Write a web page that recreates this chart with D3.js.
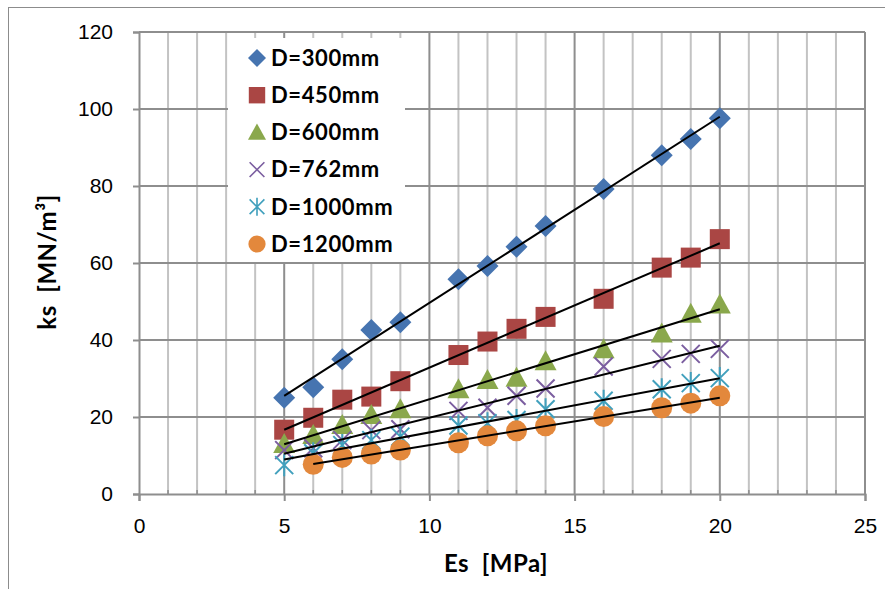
<!DOCTYPE html>
<html>
<head>
<meta charset="utf-8">
<script src="https://cdn.jsdelivr.net/npm/d3@7"></script>
<style>
  body { margin: 0; background: #fff; }
  svg { display: block; font-family: Lato, "Open Sans", sans-serif; }
</style>
</head>
<body>
<div id="chart"></div>
<script>
// Es [MPa] values shared by every series
let es = [5, 6, 7, 8, 9, 11, 12, 13, 14, 16, 18, 19, 20];

// ks [MN/m3], one array per pile diameter
let d300  = [25, 27.7, 35, 42.6, 44.6, 55.8, 59.2, 64.2, 69.6, 79.2, 88, 92.2, 97.6];
let d450  = [16.7, 19.8, 24.5, 25.3, 29.3, 36.1, 39.6, 42.9, 46, 50.7, 58.8, 61.4, 66.2];
let d600  = [13, 15.3, 17.9, 20.5, 22, 27.2, 29.6, 30.2, 34.5, 37.6, 41.7, 46.8, 49.2];
let d762  = [11.4, 11.9, 14, 16.6, 16.8, 21.6, 22.4, 25.5, 27.4, 33.1, 35.1, 36.4, 37.7];
let d1000 = [7.5, 10.6, 12.7, 14, 14.9, 17.8, 18.4, 19.2, 22, 24.2, 27.2, 28.8, 30.1];
let d1200 = [null, 7.7, 9.5, 10.4, 11.4, 13.3, 15.1, 16.4, 17.7, 20.1, 22.4, 23.6, 25.5];

let seriesNames = ["D=300mm", "D=450mm", "D=600mm", "D=762mm", "D=1000mm", "D=1200mm"];
let xTicks = [0, 5, 10, 15, 20, 25];
let yTicks = [0, 20, 40, 60, 80, 100, 120];

let width = 885,
    height = 589;

let margin = { top: 32, right: 20, bottom: 95, left: 139 };
let plotW = 865 - margin.left,
    plotH = 494 - margin.top;

let colors = ["#4674b0", "#aa4644", "#8aa84c", "#7b5ea0", "#41a0bd", "#e3883c"];
let shapes = ["diamond", "square", "triangle", "x", "star", "circle"];
let values = [d300, d450, d600, d762, d1000, d1200];

let series = seriesNames.map((name, i) => ({
  name: name,
  color: colors[i],
  shape: shapes[i],
  points: es.map((x, j) => ({ x: x, y: values[i][j] })).filter(p => p.y != null)
}));

let svg = d3.select("#chart")
  .append("svg")
  .attr("width", width)
  .attr("height", height);

// outer chart border
svg.append("rect")
  .attr("x", 8.5).attr("y", 7.5)
  .attr("width", 900).attr("height", 600)
  .attr("fill", "none")
  .attr("stroke", "#8c8c8c")
  .attr("stroke-width", 1);

let g = svg.append("g")
  .attr("transform", `translate(${margin.left},${margin.top})`);

let xScale = d3.scaleLinear().domain([0, 25]).range([0, plotW]);
let yScale = d3.scaleLinear().domain([0, 120]).range([plotH, 0]);

// ----- GRIDLINES -----
g.append("g")
  .selectAll("line")
  .data(d3.range(1, 26))
  .join("line")
  .attr("x1", d => xScale(d)).attr("x2", d => xScale(d))
  .attr("y1", 0).attr("y2", plotH)
  .attr("stroke", d => d % 5 === 0 ? "#8e8e8e" : "#c3c3c3")
  .attr("stroke-width", 2);

g.append("g")
  .selectAll("line")
  .data(yTicks.slice(1))
  .join("line")
  .attr("x1", 0).attr("x2", plotW)
  .attr("y1", d => yScale(d)).attr("y2", d => yScale(d))
  .attr("stroke", "#8e8e8e")
  .attr("stroke-width", 2);

// ----- AXES -----
let yAxis = g.append("g")
  .call(d3.axisLeft(yScale).tickValues(yTicks).tickSize(6).tickPadding(20));

let xAxis = g.append("g")
  .attr("transform", `translate(0,${plotH})`)
  .call(d3.axisBottom(xScale).tickValues(xTicks).tickSize(7).tickPadding(17));

// minor ticks on the x axis
g.append("g")
  .selectAll("line")
  .data(d3.range(1, 25).filter(d => d % 5 !== 0))
  .join("line")
  .attr("x1", d => xScale(d)).attr("x2", d => xScale(d))
  .attr("y1", plotH - 4).attr("y2", plotH)
  .attr("stroke", "#8e8e8e")
  .attr("stroke-width", 1.5);

[xAxis, yAxis].forEach(ax => {
  ax.select(".domain").attr("stroke", "#8e8e8e").attr("stroke-width", 2);
  ax.selectAll(".tick line").attr("stroke", "#8e8e8e").attr("stroke-width", 2);
  ax.selectAll(".tick text")
    .attr("fill", "#000")
    .style("font-size", "21px");
});

// ----- AXIS LABELS -----
svg.append("text")
  .attr("x", 496)
  .attr("y", 572)
  .style("text-anchor", "middle")
  .style("font-size", "24px")
  .style("font-weight", "bold")
  .style("white-space", "pre")
  .style("letter-spacing", "0.5px")
  .text("Es  [MPa]");

svg.append("text")
  .attr("transform", "translate(56,262) rotate(-90)")
  .style("text-anchor", "middle")
  .style("font-size", "24px")
  .style("font-weight", "bold")
  .style("white-space", "pre")
  .style("letter-spacing", "0.5px")
  .text("ks  [MN/m³]");

// ----- MARKERS -----
function drawMarker(sel, shape, color) {
  if (shape === "diamond") {
    sel.append("path").attr("d", "M0,-11L11,0L0,11L-11,0Z").attr("fill", color);
  } else if (shape === "square") {
    sel.append("rect").attr("x", -10).attr("y", -10).attr("width", 20).attr("height", 20).attr("fill", color);
  } else if (shape === "triangle") {
    sel.append("path").attr("d", "M0,-11L11,9L-11,9Z").attr("fill", color);
  } else if (shape === "circle") {
    sel.append("circle").attr("r", 10.5).attr("fill", color);
  } else if (shape === "x") {
    sel.append("path").attr("d", "M-9,-9L9,9M9,-9L-9,9")
      .attr("stroke", color).attr("stroke-width", 2).attr("fill", "none");
  } else if (shape === "star") {
    sel.append("path").attr("d", "M-9,-9L9,9M9,-9L-9,9M0,-11L0,11")
      .attr("stroke", color).attr("stroke-width", 2).attr("fill", "none");
  }
}

series.forEach(s => {
  g.append("g")
    .selectAll("g")
    .data(s.points)
    .join("g")
    .attr("transform", d => `translate(${xScale(d.x)},${yScale(d.y)})`)
    .each(function() { drawMarker(d3.select(this), s.shape, s.color); });
});

// ----- LINEAR TRENDLINES -----
let line = d3.line()
  .x(d => xScale(d.x))
  .y(d => yScale(d.y));

series.forEach(s => {
  let pts = s.points;
  let mx = d3.mean(pts, d => d.x),
      my = d3.mean(pts, d => d.y);
  let slope = d3.sum(pts, d => (d.x - mx) * (d.y - my)) / d3.sum(pts, d => (d.x - mx) ** 2);
  let ends = d3.extent(pts, d => d.x).map(x => ({ x: x, y: my + slope * (x - mx) }));
  g.append("path")
    .datum(ends)
    .attr("d", line)
    .attr("stroke", "black")
    .attr("stroke-width", 2)
    .attr("fill", "none");
});

// ----- LEGEND -----
let legend = g.append("g").attr("transform", `translate(${228 - margin.left},${38 - margin.top})`);

legend.append("rect")
  .attr("width", 177).attr("height", 224)
  .attr("fill", "#fff");

series.forEach((s, i) => {
  let row = legend.append("g").attr("transform", `translate(29,${20 + i * 37.2})`);
  drawMarker(row.append("g").attr("transform", "scale(0.82)"), s.shape, s.color);
  row.append("text")
    .attr("x", 14)
    .attr("dy", "0.35em")
    .style("font-size", "22px")
    .style("font-weight", "bold")
    .style("letter-spacing", "0.6px")
    .text(s.name);
});
</script>
</body>
</html>
